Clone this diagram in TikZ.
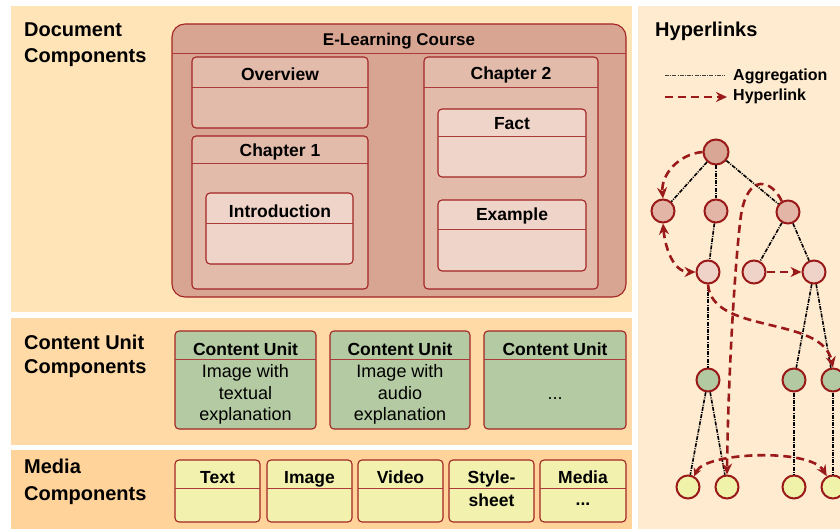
\documentclass[tikz,border=0pt]{standalone}
\usepackage{fontspec}
\setmainfont{Liberation Sans}
\usetikzlibrary{arrows.meta}
\definecolor{pDoc}{HTML}{FFE4B8}
\definecolor{pCU}{HTML}{FFDAA6}
\definecolor{pMed}{HTML}{FFD399}
\definecolor{pHyp}{HTML}{FFEBCF}
\definecolor{cElc}{HTML}{D8A593}
\definecolor{cChap}{HTML}{E3BBAB}
\definecolor{cIn}{HTML}{EFD4C9}
\definecolor{cGreen}{HTML}{B4CAA2}
\definecolor{cYel}{HTML}{F2F2AE}
\definecolor{bRed}{HTML}{A32424}
\definecolor{hRed}{HTML}{9A1A1A}
\definecolor{nRoot}{HTML}{D9A595}
\definecolor{nL2}{HTML}{E2B5A6}
\definecolor{nL3}{HTML}{EFD3C8}
\definecolor{nGr}{HTML}{B3C9A1}
\definecolor{nYe}{HTML}{F0F2AA}
\newcommand\ubox[7]{%
  \node[box,#1,anchor=north west,minimum width={#5-#3},minimum height={#6-#4}] (#2) at (#3,#4) {};
  \draw[hdr] ([yshift=-#7]#2.north west) -- ([yshift=-#7]#2.north east);}
\begin{document}
\begin{tikzpicture}[x=1pt,y=-1pt,
  box/.style={draw=bRed,line width=1.1pt,rounded corners=4pt,outer sep=0pt,inner sep=0pt},
  hdr/.style={draw=bRed!90,line width=0.9pt},
  ttl/.style={font=\fontsize{17.5}{20}\selectfont\bfseries,inner sep=0pt,anchor=base},
  body/.style={font=\fontsize{18}{21.5}\selectfont,inner sep=0pt,align=center},
  lbl/.style={font=\fontsize{20}{24}\selectfont\bfseries,inner sep=0pt,anchor=base west},
  leg/.style={font=\fontsize{16}{19}\selectfont\bfseries,inner sep=0pt,anchor=base west},
  tn/.style={circle,draw=hRed,line width=2pt,minimum size=23pt,inner sep=0pt},
  agg/.style={draw=black,line width=1.6pt,dash pattern=on 4pt off 1.2pt on 1pt off 1.2pt},
  hyp/.style={draw=hRed,line width=2.6pt,dash pattern=on 8pt off 5pt,-{Stealth[length=11pt,width=10pt]}},
]
\useasboundingbox (0,0) rectangle (840,529);
\clip (0,0) rectangle (840,529);
\fill[white] (0,0) rectangle (840,529);
% panels
\fill[pDoc] (11,6) rectangle (632,312);
\fill[pCU] (11,318) rectangle (632,445);
\fill[pMed] (11,450) rectangle (632,529);
\fill[pHyp] (638,6) rectangle (840,529);
% panel labels
\node[lbl] (ld1) at (24,37) {Document};
\node[lbl] (ld2) at (24,63) {Components};
\node[lbl] (lc1) at (24,349) {Content Unit};
\node[lbl] (lc2) at (24,373) {Components};
\node[lbl] (lm1) at (24,473) {Media};
\node[lbl] (lm2) at (24,500) {Components};
\node[lbl] (lh) at (655,37) {Hyperlinks};
% document components
\ubox{fill=cElc,rounded corners=13pt}{elc}{172}{24}{626}{297}{29}
\ubox{fill=cChap}{ov}{192}{57}{368}{128}{30}
\ubox{fill=cChap}{ch1}{192}{136}{368}{289}{27}
\ubox{fill=cIn}{intro}{206}{193}{353}{264}{30}
\ubox{fill=cChap}{ch2}{424}{57}{598}{289}{30}
\ubox{fill=cIn}{fact}{438}{109}{586}{177}{27}
\ubox{fill=cIn}{ex}{438}{200}{586}{271}{29}
\node[ttl,font=\fontsize{17}{20}\selectfont\bfseries] (telc) at (399,45.5) {E-Learning Course};
\node[ttl] (tov) at (280,81) {Overview};
\node[ttl] (tch1) at (280,157) {Chapter 1};
\node[ttl] (tin) at (280,217.5) {Introduction};
\node[ttl] (tch2) at (511,80) {Chapter 2};
\node[ttl] (tfa) at (512,130) {Fact};
\node[ttl] (tex) at (512,221) {Example};
% content units
\ubox{fill=cGreen}{cu1}{175}{331}{316}{429}{28}
\ubox{fill=cGreen}{cu2}{330}{331}{470}{429}{28}
\ubox{fill=cGreen}{cu3}{484}{331}{626}{429}{28}
\node[ttl] (tcu1) at (245.5,355) {Content Unit};
\node[ttl] (tcu2) at (400,355) {Content Unit};
\node[ttl] (tcu3) at (555,355) {Content Unit};
\node[body] (bcu1) at (245.5,394.5) {Image with\\textual\\explanation};
\node[body] (bcu2) at (400,394.5) {Image with\\audio\\explanation};
\node[body,anchor=base] (bcu3) at (555,399) {...};
% media
\ubox{fill=cYel}{m1}{175}{460}{260}{522}{28}
\ubox{fill=cYel}{m2}{267}{460}{352}{522}{28}
\ubox{fill=cYel}{m3}{358}{460}{443}{522}{28}
\ubox{fill=cYel}{m4}{449}{460}{534}{522}{28}
\ubox{fill=cYel}{m5}{540}{460}{626}{522}{28}
\node[ttl] (tm1) at (217.5,483) {Text};
\node[ttl] (tm2) at (309.5,483) {Image};
\node[ttl] (tm3) at (400.5,483) {Video};
\node[ttl] (tm4) at (491.5,483) {Style-};
\node[ttl] (tm4b) at (491.5,506) {sheet};
\node[ttl] (tm5) at (583,483) {Media};
\node[ttl] (tm5b) at (583,505) {...};
% legend
\coordinate (la1) at (665,76);
\coordinate (la2) at (725,76);
\coordinate (lb1) at (665,97);
\coordinate (lb2) at (727,97);
\draw[agg,line width=1pt,draw=black!75] (la1) -- (la2);
\draw[hyp] (lb1) -- (lb2);
\node[leg] (lga) at (733,81) {Aggregation};
\node[leg] (lgb) at (733,101) {Hyperlink};
% tree nodes
\node[tn,fill=nRoot,minimum size=25pt] (r) at (716,152) {};
\node[tn,fill=nL2] (a) at (663,211) {};
\node[tn,fill=nL2] (b) at (716,211) {};
\node[tn,fill=nL2] (c) at (788,212) {};
\node[tn,fill=nL3] (d) at (708,272) {};
\node[tn,fill=nL3] (e) at (754,272) {};
\node[tn,fill=nL3] (f) at (814,272) {};
\node[tn,fill=nGr] (g) at (708,380) {};
\node[tn,fill=nGr] (h) at (794,380) {};
\node[tn,fill=nGr] (i) at (833,380) {};
\node[tn,fill=nYe] (j) at (688,487) {};
\node[tn,fill=nYe] (k) at (727,487) {};
\node[tn,fill=nYe] (l) at (794,487) {};
\node[tn,fill=nYe] (m) at (833,487) {};
% aggregation edges
\draw[agg] (r) -- (a);
\draw[agg] (r) -- (b);
\draw[agg] (r) -- (c);
\draw[agg] (b) -- (d);
\draw[agg] (c) -- (e);
\draw[agg] (c) -- (f);
\draw[agg] (d) -- (g);
\draw[agg] (f) -- (h);
\draw[agg] (f) -- (i);
\draw[agg] (g) -- (j);
\draw[agg] (g) -- (k);
\draw[agg] (h) -- (l);
\draw[agg] (i) -- (m);
% hyperlinks
\draw[hyp] (r.west) to[out=185,in=95] (a.north);
\draw[hyp,{Stealth[length=11pt,width=10pt]}-{Stealth[length=11pt,width=10pt]}] (a.south) to[out=-85,in=180] (d.west);
\draw[hyp] (e.east) -- (f.west);
\draw[hyp] (d.south) .. controls (712,335) and (822,315) .. (i.north);
\draw[hyp] (c.120) .. controls (772,180) and (748,172) .. (741,215) .. controls (735,260) and (728,380) .. (k.north);
\draw[hyp,{Stealth[length=8pt,width=8pt]}-{Stealth[length=11pt,width=10pt]}] (j.60) .. controls (705,452) and (810,448) .. (m.120);
\end{tikzpicture}
\end{document}
